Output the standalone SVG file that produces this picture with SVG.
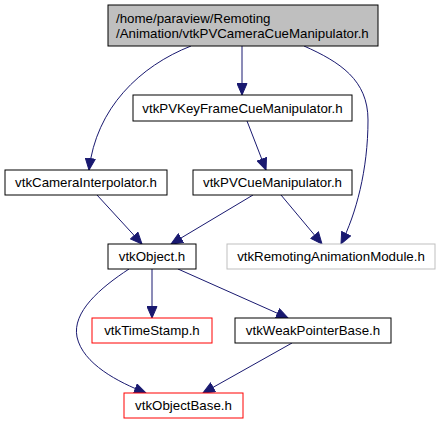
<svg xmlns="http://www.w3.org/2000/svg" width="439" height="425" viewBox="0 0 439 425">
<style>
  .n rect { fill: #ffffff; stroke: #000000; stroke-width: 1; }
  .n.gray rect { stroke: #bfbfbf; }
  .n.red rect { stroke: #ff0000; }
  .n.top rect { fill: #bfbfbf; }
  .n text { font-family: "Liberation Sans", Arial, sans-serif; font-size: 13.3px; fill: #000000; text-anchor: middle; }
  .n.top text { text-anchor: start; }
  .e path { fill: none; stroke: #191970; stroke-width: 1; }
</style>
<defs>
  <marker id="arr" markerUnits="userSpaceOnUse" markerWidth="13" markerHeight="11" viewBox="0 0 13 11" refX="12" refY="5.5" orient="auto">
    <path d="M0.5,0.5 L12,5.5 L0.5,10.5 Z" fill="#191970" stroke="#191970" stroke-width="1"/>
  </marker>
</defs>
<rect width="439" height="425" fill="#ffffff"/>
<g id="edges" class="e">
  <path d="M242,46 L242,95" marker-end="url(#arr)"/>
  <path d="M191,46 C140,66 96,108 89,170" marker-end="url(#arr)"/>
  <path d="M304,46 C340,62 368,80 368,120 C368,170 356,214 341,244" marker-end="url(#arr)"/>
  <path d="M247,121 L266,170" marker-end="url(#arr)"/>
  <path d="M97,195 L142,244" marker-end="url(#arr)"/>
  <path d="M253,195 L171,244" marker-end="url(#arr)"/>
  <path d="M281,195 L322,244" marker-end="url(#arr)"/>
  <path d="M152,269 L152,318" marker-end="url(#arr)"/>
  <path d="M178,269 L288,318" marker-end="url(#arr)"/>
  <path d="M129,269 C100,288 72,312 77,337 C83,364 118,382 146,393" marker-end="url(#arr)"/>
  <path d="M292,343 L203,393" marker-end="url(#arr)"/>
</g>
<g id="node-top" class="n top">
  <rect x="108" y="5" width="270" height="41"/>
  <text x="116" y="22.5">/home/paraview/Remoting</text>
  <text x="116" y="37.5">/Animation/vtkPVCameraCueManipulator.h</text>
</g>
<g id="node-keyframe" class="n">
  <rect x="133" y="95" width="219" height="26"/>
  <text x="242.5" y="112.5">vtkPVKeyFrameCueManipulator.h</text>
</g>
<g id="node-camerainterp" class="n">
  <rect x="5" y="170" width="162" height="25"/>
  <text x="86" y="187">vtkCameraInterpolator.h</text>
</g>
<g id="node-pvcue" class="n">
  <rect x="193" y="170" width="159" height="25"/>
  <text x="272.5" y="187">vtkPVCueManipulator.h</text>
</g>
<g id="node-object" class="n">
  <rect x="108" y="244" width="88" height="25"/>
  <text x="152" y="261">vtkObject.h</text>
</g>
<g id="node-remoting" class="n gray">
  <rect x="227" y="244" width="208" height="25"/>
  <text x="331" y="261">vtkRemotingAnimationModule.h</text>
</g>
<g id="node-timestamp" class="n red">
  <rect x="92" y="318" width="120" height="25"/>
  <text x="152" y="335">vtkTimeStamp.h</text>
</g>
<g id="node-weak" class="n">
  <rect x="235" y="318" width="156" height="25"/>
  <text x="313" y="335">vtkWeakPointerBase.h</text>
</g>
<g id="node-objectbase" class="n red">
  <rect x="124" y="393" width="119" height="25"/>
  <text x="183.5" y="410">vtkObjectBase.h</text>
</g>
</svg>
